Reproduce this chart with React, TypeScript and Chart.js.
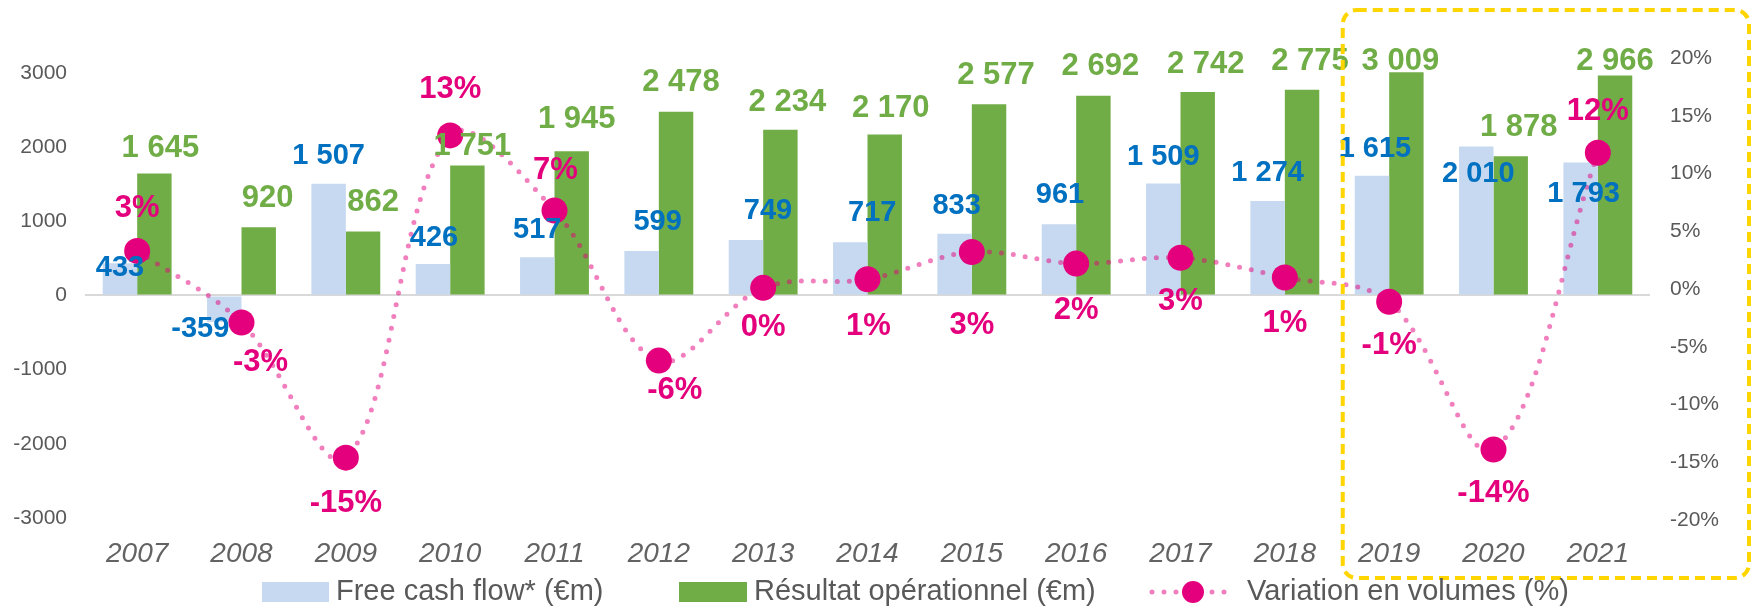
import React, { useEffect, useRef } from "react";
import { Chart, registerables } from "chart.js";

Chart.register(...registerables);

const years = ["2007", "2008", "2009", "2010", "2011", "2012", "2013", "2014", "2015", "2016", "2017", "2018", "2019", "2020", "2021"];
const freeCashFlow = [433, -359, 1507, 426, 517, 599, 749, 717, 833, 961, 1509, 1274, 1615, 2010, 1793];
const operatingResult = [1645, 920, 862, 1751, 1945, 2478, 2234, 2170, 2577, 2692, 2742, 2775, 3009, 1878, 2966];
const volumeChange = [0.033, -0.029, -0.146, 0.133, 0.068, -0.062, 0.001, 0.0084, 0.032, 0.022, 0.027, 0.010, -0.011, -0.139, 0.118];
const leftTicks = [-3000, -2000, -1000, 0, 1000, 2000, 3000];
const rightTicks = [-0.2, -0.15, -0.1, -0.05, 0, 0.05, 0.1, 0.15, 0.2];
const seriesNames = ["Free cash flow* (€m)", "Résultat opérationnel (€m)", "Variation en volumes (%)"];

// label offsets (dx, dy) relative to the end of each mark
const fcfLabelOffsets = [[0, 5], [-24, 7], [0, -28], [1, -26], [0, -27], [16, -29], [22, -29], [22, -29], [2, -28], [1, -29], [0, -27], [0, -28], [3, -27], [2, 28], [3, 31]];
const opLabelOffsets = [[6, -25], [9, -29], [10, -29], [5, -19], [5, -32], [5, -29], [7, -27], [6, -26], [7, -29], [7, -29], [8, -28], [8, -28], [-6, -11], [8, -29], [0, -14]];
const volLabelOffsets = [[0, -42], [19, 40], [0, 46], [0, -46], [1, -40], [16, 30], [0, 40], [1, 47], [0, 73], [0, 47], [0, 44], [0, 46], [0, 44], [0, 44], [0, -41]];

const FONT = '"Liberation Sans", Arial, sans-serif';
const BLUE_BAR = "#C6D9F1";
const GREEN = "#70AD47";
const BLUE_TEXT = "#0070C0";
const PINK = "#E4007C";
const PINK_LINE = "rgba(228,0,124,0.5)";
const GREY = "#595959";

const fmtThousands = (v: number) => String(v).replace(/\B(?=(\d{3})+(?!\d))/g, " ");
const fmtPct = (v: number) => {
  const r = Math.round(v * 100);
  return (r === 0 ? 0 : r) + "%";
};

const labelsPlugin = {
  id: "valueLabels",
  afterDatasetsDraw(chart: any) {
    const ctx = chart.ctx;
    ctx.save();
    ctx.textAlign = "center";
    ctx.textBaseline = "middle";

    const metaF = chart.getDatasetMeta(1);
    ctx.font = `bold 29px ${FONT}`;
    ctx.fillStyle = BLUE_TEXT;
    metaF.data.forEach((el: any, i: number) => {
      const [dx, dy] = fcfLabelOffsets[i];
      ctx.fillText(fmtThousands(freeCashFlow[i]), el.x + dx, el.y + dy);
    });

    const metaO = chart.getDatasetMeta(2);
    ctx.font = `bold 31px ${FONT}`;
    ctx.fillStyle = GREEN;
    metaO.data.forEach((el: any, i: number) => {
      const [dx, dy] = opLabelOffsets[i];
      ctx.fillText(fmtThousands(operatingResult[i]), el.x + dx, el.y + dy);
    });

    const metaV = chart.getDatasetMeta(0);
    ctx.font = `bold 31px ${FONT}`;
    ctx.fillStyle = PINK;
    metaV.data.forEach((el: any, i: number) => {
      const [dx, dy] = volLabelOffsets[i];
      ctx.fillText(fmtPct(volumeChange[i]), el.x + dx, el.y + dy);
    });
    ctx.restore();
  },
  afterDraw(chart: any) {
    const ctx = chart.ctx;
    const x = chart.scales.x;
    ctx.save();
    // highlight box around 2019-2021
    const cat = x.getPixelForValue(1) - x.getPixelForValue(0);
    const left = x.getPixelForValue(12) - cat * 0.445;
    ctx.strokeStyle = "#FFD500";
    ctx.lineWidth = 4;
    ctx.setLineDash([10, 6]);
    ctx.beginPath();
    ctx.roundRect(left, 10, 1749 - left, 568, 14);
    ctx.stroke();
    ctx.setLineDash([]);

    // legend
    const ly = 592;
    ctx.font = `29px ${FONT}`;
    ctx.textBaseline = "middle";
    ctx.textAlign = "left";
    ctx.fillStyle = BLUE_BAR;
    ctx.fillRect(262, ly - 10, 67, 20);
    ctx.fillStyle = GREY;
    ctx.fillText(seriesNames[0], 336, ly);
    ctx.fillStyle = GREEN;
    ctx.fillRect(679, ly - 10, 68, 20);
    ctx.fillStyle = GREY;
    ctx.fillText(seriesNames[1], 754, ly);
    ctx.strokeStyle = PINK_LINE;
    ctx.lineWidth = 5;
    ctx.lineCap = "round";
    ctx.setLineDash([0, 12]);
    ctx.beginPath();
    ctx.moveTo(1152, ly);
    ctx.lineTo(1236, ly);
    ctx.stroke();
    ctx.setLineDash([]);
    ctx.fillStyle = PINK;
    ctx.beginPath();
    ctx.arc(1193, ly, 11, 0, Math.PI * 2);
    ctx.fill();
    ctx.fillStyle = GREY;
    ctx.fillText(seriesNames[2], 1247, ly);
    ctx.restore();
  },
};

export default function App() {
  const ref = useRef<HTMLCanvasElement>(null);
  useEffect(() => {
    document.body.style.margin = "0";
    const chart = new Chart(ref.current as HTMLCanvasElement, {
      type: "bar",
      data: {
        labels: years,
        datasets: [
          {
            type: "line",
            label: seriesNames[2],
            data: volumeChange,
            yAxisID: "y1",
            borderColor: PINK_LINE,
            borderWidth: 5,
            borderDash: [0, 12],
            borderCapStyle: "round",
            tension: 0.35,
            fill: false,
            pointRadius: 13,
            pointBackgroundColor: PINK,
            pointBorderWidth: 0,
            clip: false,
          } as any,
          {
            type: "bar",
            label: seriesNames[0],
            data: freeCashFlow,
            yAxisID: "y",
            backgroundColor: BLUE_BAR,
            categoryPercentage: 0.66,
            barPercentage: 1,
          },
          {
            type: "bar",
            label: seriesNames[1],
            data: operatingResult,
            yAxisID: "y",
            backgroundColor: GREEN,
            categoryPercentage: 0.66,
            barPercentage: 1,
          },
        ],
      },
      options: {
        responsive: false,
        animation: false,
        devicePixelRatio: 1,
        layout: { padding: { top: 58, left: 0, right: 0, bottom: 0 } },
        plugins: { legend: { display: false }, tooltip: { enabled: false } },
        scales: {
          x: {
            grid: { display: false, drawTicks: false },
            border: { display: false },
            ticks: {
              autoSkip: false,
              maxRotation: 0,
              padding: 17,
              color: "#636363",
              font: { family: FONT, size: 28, style: "italic" },
            },
            afterFit: (s: any) => {
              s.height = 90;
            },
          },
          y: {
            position: "left",
            min: -3027,
            max: 3202,
            afterBuildTicks: (s: any) => {
              s.ticks = leftTicks.map((v) => ({ value: v }));
            },
            afterFit: (s: any) => {
              s.width = 85;
            },
            grid: {
              drawTicks: false,
              lineWidth: 2,
              color: (c: any) => (c.tick && c.tick.value === 0 ? "#D9D9D9" : "rgba(0,0,0,0)"),
            },
            border: { display: false },
            ticks: {
              padding: 18,
              color: GREY,
              font: { family: FONT, size: 21 },
              callback: (v: any) => String(v),
            },
          },
          y1: {
            position: "right",
            min: -0.2,
            max: 0.2,
            afterBuildTicks: (s: any) => {
              s.ticks = rightTicks.map((v) => ({ value: v }));
            },
            afterFit: (s: any) => {
              s.width = 102;
            },
            grid: { display: false, drawTicks: false },
            border: { display: false },
            ticks: {
              padding: 20,
              color: GREY,
              font: { family: FONT, size: 21 },
              callback: (v: any) => fmtPct(Number(v)),
            },
          },
        },
      },
      plugins: [labelsPlugin],
    } as any);
    return () => chart.destroy();
  }, []);
  return (
    <div style={{ position: "absolute", left: 0, top: 0, width: 1752, height: 610 }}>
      <canvas ref={ref} width={1752} height={610} style={{ display: "block", width: 1752, height: 610 }} />
    </div>
  );
}
